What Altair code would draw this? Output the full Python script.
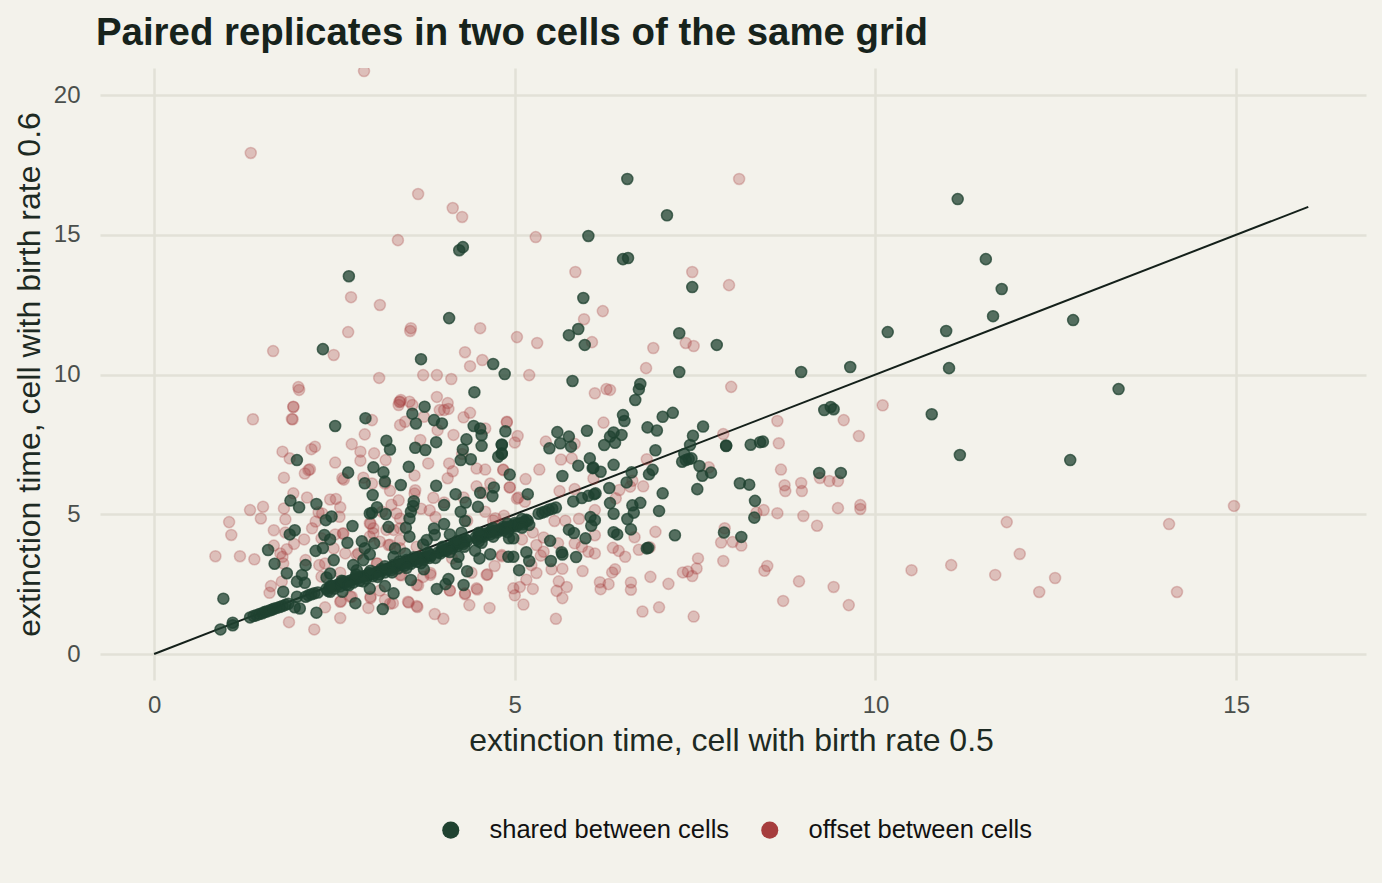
import altair as alt
import pandas as pd

X_TICKS = [0, 5, 10, 15]
Y_TICKS = [0, 5, 10, 15, 20]
SERIES = ["shared between cells", "offset between cells"]
COLOURS = ["#1f4230", "#a63d3d"]
REFERENCE = [(0, 0), (16, 16)]

SHARED_SCATTER = [
(6.56,17.0),(7.11,15.7),(11.14,16.28),(6.02,14.96),(6.50,14.13),(6.57,14.17),(4.23,14.45),(4.28,14.56),(2.70,13.52),
(11.53,14.13),(11.75,13.06),(11.63,12.09),(12.74,11.95),(7.46,13.13),(5.95,12.74),(4.09,12.02),(5.88,11.63),(5.75,11.41),
(5.97,11.06),(7.28,11.48),(7.80,11.06),(10.17,11.52),(10.98,11.56),(11.02,10.23),(9.65,10.27),(8.97,10.09),(13.37,9.48),
(2.34,10.91),(3.70,10.55),(4.70,10.38),(4.86,10.02),(4.44,9.37),(5.80,9.77),(7.28,10.09),(6.74,9.66),(6.72,9.47),(6.67,9.09),
(6.50,8.55),(6.52,8.34),(7.19,8.63),(7.05,8.49),(6.84,8.11),(6.97,8.0),(7.61,8.14),(7.47,7.81),(7.43,7.48),(7.35,7.16),
(7.45,7.0),(7.41,6.98),(7.37,6.94),(7.32,6.88),(7.56,6.73),(7.60,6.38),(7.72,6.49),(7.53,5.90),(7.93,7.44),(7.93,7.46),
(8.27,7.49),(8.40,7.58),(8.44,7.60),(8.12,6.11),(8.25,6.06),(8.33,5.48),(8.32,4.88),(7.90,4.35),(8.14,4.19),(7.22,4.25),
(7.00,5.12),(7.05,5.75),(6.83,3.78),(6.85,3.80),(6.61,4.46),(6.56,4.83),(6.65,5.06),(6.63,5.32),(6.74,5.41),(6.86,6.43),
(6.91,6.59),(6.95,7.29),(6.62,6.50),(6.55,6.14),(6.31,5.94),(6.32,5.40),(6.37,5.02),(6.37,4.36),(6.42,4.28),(6.12,5.75),
(6.10,5.72),(6.02,5.66),(5.93,5.58),(5.81,5.46),(6.37,6.77),(6.19,6.52),(6.08,6.65),(6.09,6.67),(6.04,7.0),(5.88,6.74),
(5.66,6.37),(5.48,7.36),(5.63,7.54),(5.59,7.94),(5.75,7.78),(5.78,7.42),(6.0,7.99),(6.24,7.48),(6.39,7.56),(6.32,7.78),
(6.37,7.93),(6.48,7.84),(5.18,5.72),(4.93,6.42),(4.87,7.97),(4.82,7.48),(4.82,7.16),(4.77,7.06),(6.05,4.90),(6.11,4.79),
(6.06,4.59),(5.98,4.14),(5.75,4.45),(5.82,4.33),(5.49,4.05),(5.65,3.64),(5.66,3.56),(5.50,3.33),(5.85,3.47),(5.20,3.33),
(5.16,3.64),(5.06,3.0),(4.98,4.14),(4.92,4.14),(4.98,3.48),(4.91,3.48),(5.20,4.62),
(12.70,6.94),(10.78,8.58),(11.17,7.12),(9.29,8.73),(9.38,8.84),(9.42,8.76),(9.22,6.48),(9.52,6.48),
(0.96,1.98),(0.92,0.88),(1.09,1.12),(1.09,1.03),(2.25,1.48),(2.79,1.82),(3.17,1.61),(2.02,1.63),(1.95,1.67),(2.99,2.34),
(3.20,2.43),(3.32,2.17),(2.61,2.23),(2.44,2.23),(1.79,2.23),(1.98,2.05),(3.56,2.65),(3.92,2.33),(4.04,2.5),(4.08,2.68),
(4.29,2.47),(3.74,3.03),(4.34,2.96),(4.19,3.23),(4.22,3.48),(4.51,3.42),(4.66,3.57),(4.45,3.70),(4.54,3.98),(1.84,2.89),
(1.67,3.23),(1.58,3.72),(2.10,3.18),(2.05,2.83),(1.98,2.59),(2.09,2.55),(2.39,2.74),(2.44,2.88),(2.49,3.36),(2.24,3.69),
(2.34,3.79),(1.88,4.28),(1.95,4.43),(1.89,5.49),(2.01,5.25),(1.98,6.94),(2.25,5.37),(2.38,4.79),(2.46,4.92),(2.75,4.58),
(2.36,4.26),(2.44,4.10),(2.68,3.98),(2.88,4.03),(2.92,3.78),(3.05,3.96),(2.99,3.57),(2.90,3.36),(2.76,3.18),(2.81,3.0),
(3.34,3.78),(3.32,3.48),(3.48,3.60),(3.54,4.20),(3.49,4.52),(3.54,4.85),(3.56,5.09),(3.59,5.30),(3.60,5.47),(3.25,4.55),
(3.21,5.01),(2.99,5.03),(3.02,5.05),(3.09,5.25),(3.03,5.69),(3.42,6.05),(2.92,6.11),(3.20,6.17),(3.18,6.50),(3.04,6.68),
(2.69,6.49),(3.53,6.70),(3.91,6.02),(4.18,5.72),(4.02,5.33),(4.32,5.42),(4.25,5.09),(4.31,4.76),(4.49,5.27),(4.52,5.77),
(4.71,5.96),(4.69,5.65),(4.02,4.65),(3.88,4.49),(3.89,4.26),(4.10,4.28),(4.26,4.34),(3.73,3.92),(3.78,4.08),(4.82,7.18),
(4.82,7.50),(4.54,7.45),(4.54,7.83),(4.52,8.07),(4.43,8.16),(4.33,7.68),(4.28,7.32),(4.25,6.94),(4.39,6.97),(3.91,7.58),
(3.76,7.30),(3.62,7.38),(3.99,8.25),(3.88,8.37),(3.63,8.25),(3.58,8.60),(3.75,8.85),(2.93,8.44),(2.51,8.16),(3.22,7.63),
(3.27,7.32),
]

SHARED_BAND = [
(1.33,1.31),(1.38,1.36),(1.42,1.39),(1.46,1.43),(1.5,1.46),(1.53,1.5),(1.56,1.52),(1.6,1.56),(1.63,1.58),(1.66,1.62),
(1.7,1.65),(1.74,1.68),(1.78,1.72),(1.82,1.76),(1.86,1.8),(2.1,2.05),(2.14,2.1),(2.18,2.14),(2.22,2.17),(2.27,2.2),
(2.39,2.33),(2.43,2.37),(2.47,2.42),(2.52,2.45),(2.56,2.5),(2.6,2.53),(2.65,2.56),(2.69,2.6),(2.74,2.65),(2.78,2.68),
(2.83,2.72),(2.87,2.76),(2.92,2.79),(2.96,2.82),(3.0,2.85),(3.05,2.88),(3.09,2.93),(3.13,2.96),(3.17,2.99),(3.22,3.03),
(3.26,3.06),(3.3,3.09),(3.35,3.13),(3.4,3.19),(3.44,3.22),(3.48,3.26),(3.52,3.29),(3.56,3.32),(3.6,3.36),(3.64,3.39),
(3.68,3.42),(3.72,3.45),(3.76,3.47),(3.8,3.5),(3.84,3.53),(3.94,3.64),(3.98,3.68),(4.02,3.72),(4.06,3.76),(4.1,3.82),
(4.14,3.87),(4.18,3.92),(4.22,3.96),(4.26,3.99),(4.3,4.02),(4.34,4.05),(4.46,4.18),(4.5,4.22),(4.54,4.25),(4.58,4.29),
(4.62,4.33),(4.66,4.36),(4.7,4.39),(4.74,4.42),(4.78,4.45),(4.82,4.48),(4.86,4.51),(4.9,4.54),(4.94,4.57),(4.98,4.6),
(5.02,4.64),(5.06,4.67),(5.1,4.7),(5.14,4.73),(5.18,4.77),(5.33,5.02),(5.38,5.06),(5.42,5.1),(5.47,5.16),(5.52,5.2),(5.57,5.24),
(2.41,2.26),(2.5,2.34),(2.58,2.42),(2.67,2.48),(2.76,2.56),(2.85,2.62),(2.94,2.7),(3.03,2.78),(3.12,2.85),(3.2,2.92),
(3.29,3.0),(3.38,3.06),(3.47,3.16),(3.56,3.23),(3.65,3.3),(3.74,3.37),(3.82,3.44),(3.97,3.6),(4.05,3.69),(4.13,3.78),
(4.21,3.87),(4.29,3.94),(4.48,4.11),(4.57,4.2),(4.66,4.28),(4.75,4.35),(4.84,4.42),(4.93,4.49),(5.02,4.57),(5.11,4.64),
(2.45,2.44),(2.62,2.6),(2.8,2.76),(2.98,2.9),(3.15,3.04),(3.32,3.18),(3.5,3.36),(3.66,3.47),(3.82,3.58),(4.0,3.76),
(4.16,3.95),(4.32,4.1),(4.52,4.3),(4.68,4.44),(4.84,4.55),(5.0,4.69),(5.16,4.8),
(2.6,2.62),(2.8,2.84),(3.0,2.98),(3.2,3.14),(3.4,3.31),(3.6,3.46),(3.8,3.62),(4.0,3.84),(4.2,4.04),(4.5,4.34),(4.7,4.51),(4.9,4.66),(5.1,4.83),
(2.7,2.46),(2.9,2.6),(3.1,2.76),(3.3,2.92),(3.5,3.08),(3.7,3.25),(3.9,3.44),(4.1,3.65),(4.3,3.84),(4.5,4.03),(4.7,4.2),(4.9,4.36),(5.1,4.52),
]

OFFSET = [
(1.93,8.85),(1.92,8.40),(1.37,8.40),(1.78,7.24),(1.88,7.0),(2.18,7.33),(2.23,7.42),(2.14,6.58),(2.09,6.46),(2.16,6.61),
(1.80,6.31),(2.51,6.85),(2.74,7.51),(2.86,7.24),(2.86,6.92),(3.05,7.18),(2.92,7.86),(3.02,8.37),(3.21,6.94),(3.41,8.19),
(3.48,8.31),(3.39,8.91),(3.54,9.03),(3.41,9.03),(3.74,8.49),(3.96,8.73),(4.08,8.77),(4.15,7.84),(3.93,8.01),(3.69,7.66),
(3.80,6.82),(4.09,6.82),(4.14,6.54),(4.07,6.29),(4.29,8.47),(4.38,8.63),(4.59,8.07),(4.89,8.31),(4.27,7.16),(4.47,6.64),
(4.59,6.60),(4.84,6.58),(3.61,6.39),(2.90,6.31),(3.02,6.10),(3.2,6.1),(3.27,5.84),(2.63,6.24),(2.61,6.29),(1.93,5.75),
(2.12,5.60),(1.33,5.15),(1.51,5.27),(1.48,4.85),(1.80,5.21),(1.82,4.82),(1.04,4.72),(1.07,4.26),(0.85,3.50),(1.19,3.5),
(1.39,3.39),(1.66,4.43),(1.82,4.35),(2.19,4.50),(2.28,5.07),(2.33,5.03),(2.44,5.53),(2.52,5.55),(2.58,5.25),(2.57,4.91),
(2.24,4.74),(2.51,4.28),(2.62,4.32),(2.08,4.10),(1.94,3.94),(1.84,3.75),(1.66,3.88),(1.75,3.6),(1.78,3.48),(1.79,3.24),
(2.10,3.36),(2.29,3.18),(2.49,3.78),(2.65,3.6),(2.83,3.6),(2.58,2.91),(1.62,2.43),(1.60,2.19),(1.77,2.59),(2.59,1.89),
(2.72,2.05),(2.37,1.67),(2.58,1.29),(2.22,0.88),(1.87,1.14),(2.97,1.65),(3.0,2.05),(3.2,1.94),(3.31,1.82),(3.13,2.27),
(3.53,1.84),(3.65,1.68),(3.89,1.43),(4.01,1.26),(4.37,1.75),(4.65,1.65),(4.31,2.14),(4.10,2.27),(4.48,2.31),(3.66,2.46),
(3.83,2.9),(3.43,2.82),(3.09,3.24),(4.62,2.85),(4.40,2.91),(4.82,3.50),(4.98,2.35),(5.0,2.1),(4.73,4.86),(4.59,5.09),
(4.93,5.96),(5.03,5.56),(4.66,6.1),(4.47,6.0),(4.56,5.77),(4.29,5.6),(3.87,5.59),(3.82,5.14),(4.02,5.42),(3.62,5.86),
(3.61,5.74),(3.39,5.5),(3.29,5.34),(3.16,5.09),(3.36,5.03),(3.41,4.85),(2.99,4.68),(3.04,4.5),(2.99,4.2),(3.13,4.02),
(3.27,3.91),(3.41,4.08),
(6.11,9.33),(6.27,9.48),(8.0,9.56),(8.64,8.34),(8.66,7.54),(8.69,6.6),(8.74,6.04),(8.98,5.83),(8.45,5.15),(8.35,5.06),
(8.64,5.04),(9.0,4.94),(9.19,4.59),(7.89,7.87),(7.69,6.68),(6.83,6.97),(6.23,8.28),(4.89,8.29),(5.04,7.80),(5.0,7.57),
(5.43,7.60),(5.83,7.52),(5.64,6.96),(5.79,7.0),(5.34,6.6),(5.15,6.26),(4.93,5.97),(4.84,6.6),(6.09,6.28),(5.62,5.83),
(5.83,5.9),(5.05,5.60),(5.14,5.45),(6.45,5.87),(6.40,5.57),(6.6,5.99),(6.63,6.2),(6.78,6.0),(6.11,5.15),(5.89,4.84),
(5.70,4.77),(5.55,4.76),(6.11,4.25),(5.40,4.17),(5.60,3.96),(5.83,3.96),(5.93,3.84),(6.02,3.66),(6.11,3.6),(5.40,3.66),
(5.36,3.52),(5.23,3.18),(5.30,2.9),(5.16,2.66),(5.07,2.4),(5.12,1.77),(5.25,2.33),(5.51,3.03),
(5.66,3.05),(5.94,2.97),(5.61,2.6),(5.72,2.4),(5.58,2.26),(5.66,2.0),(5.57,1.26),(6.36,3.8),(6.44,3.69),(6.53,3.48),
(6.72,3.73),(6.66,4.18),(6.95,4.37),(6.87,3.82),(6.39,3.03),(6.35,2.92),(6.18,2.57),(6.19,2.32),(6.30,2.5),(6.61,2.56),
(6.61,2.3),(6.88,2.76),(7.13,2.51),(6.77,1.52),(7.0,1.67),(7.48,1.34),(7.33,2.92),(7.40,2.95),(7.46,2.79),(7.52,3.06),
(7.54,3.42),(7.86,3.99),(8.02,4.01),(8.14,3.88),(7.89,3.33),(7.91,4.5),(8.46,2.98),(8.50,3.15),(8.94,2.6),(8.72,1.9),
(2.91,20.86),(1.34,17.93),(3.66,16.46),(4.14,15.96),(4.27,15.64),(3.38,14.81),(5.29,14.92),(8.11,17.0),(5.84,13.67),
(7.46,13.67),(7.97,13.2),(2.73,12.77),(3.13,12.49),(6.22,12.27),(2.69,11.52),(3.55,11.56),(3.56,11.66),(4.52,11.66),
(5.03,11.34),(5.31,11.13),(6.07,11.16),(5.96,11.98),(7.37,11.13),(7.48,11.02),(1.65,10.84),(2.49,10.7),(4.31,10.8),
(4.55,10.52),(6.92,10.95),(6.82,10.23),(4.38,10.3),(3.73,9.98),(3.92,9.98),(4.12,9.84),(5.20,9.98),(3.12,9.88),(6.32,9.45),
(2.0,9.55),(2.01,9.45),(3.92,9.2),(3.4,9.02),(3.42,9.09),(3.58,8.91),(4.07,8.98),(4.02,8.73),(1.93,8.84),(1.91,8.41),
(10.1,8.9),(9.56,8.37),(9.77,7.8),(8.97,6.12),(8.75,5.83),(9.23,6.3),(9.36,6.19),(9.48,6.19),(9.48,5.22),(9.79,5.19),
(9.79,5.33),(9.42,2.4),(9.63,1.75),(10.5,3.0),(11.05,3.18),(11.66,2.83),(12.0,3.58),(11.82,4.72),(14.07,4.65),(14.97,5.3),
(12.27,2.22),(12.49,2.72),(14.18,2.22),
(3.0,4.67),(3.22,4.44),(3.41,4.5),(2.62,4.3),(2.32,4.14),(2.81,3.54),(3.04,4.32),(3.09,3.24),(2.37,3.24),(2.32,2.77),
(3.41,2.83),(3.64,2.47),(3.83,2.83),(3.73,2.76),(4.1,2.28),(4.31,2.17),(4.47,2.35),(4.61,2.83),(3.52,1.87),(3.64,1.72),
(2.58,1.87),(2.74,2.05),(3.0,2.0),(3.27,1.8),(4.82,3.54),(4.13,3.42),(3.32,4.44),(3.25,3.9),(3.41,3.78),(3.64,3.84),
(4.13,3.78),(4.34,4.77),(4.7,4.78),(4.85,4.95),(5.25,4.35),(5.1,4.1),(5.3,3.9),(4.72,3.15),(3.9,4.9),(3.7,5.2),
]

rows = [{"x": x, "y": y, "kind": SERIES[1]} for x, y in OFFSET]
red = pd.DataFrame(rows)
rows = [{"x": x, "y": y, "kind": SERIES[0]} for x, y in SHARED_SCATTER + SHARED_BAND]
green = pd.DataFrame(rows)
ref = pd.DataFrame(REFERENCE, columns=["x", "y"])

FONT = "Liberation Sans"
BG = "#f3f2eb"
x_scale = alt.Scale(domain=[-0.75, 16.8], nice=False, zero=False)
y_scale = alt.Scale(domain=[-0.93, 20.97], nice=False, zero=False)
col_scale = alt.Scale(domain=SERIES, range=COLOURS)

x_axis = alt.X("x:Q", scale=x_scale, axis=alt.Axis(
    values=X_TICKS, title="extinction time, cell with birth rate 0.5", format="d",
    grid=True, gridColor="#e2e1d7", gridWidth=2.5, domain=False, ticks=False,
    labelFont=FONT, labelFontSize=24, labelColor="#4a4f4b", labelPadding=13,
    titleFont=FONT, titleFontSize=32, titleFontWeight="normal", titleColor="#1d2a23", titlePadding=8,
    titleX=631))
y_axis = alt.Y("y:Q", scale=y_scale, axis=alt.Axis(
    values=Y_TICKS, title="extinction time, cell with birth rate 0.6", format="d",
    grid=True, gridColor="#e2e1d7", gridWidth=2.5, domain=False, ticks=False,
    labelFont=FONT, labelFontSize=24, labelColor="#4a4f4b", labelPadding=20,
    titleFont=FONT, titleFontSize=32, titleFontWeight="normal", titleColor="#1d2a23", titlePadding=7))

line = alt.Chart(ref).mark_line(color="#14201a", strokeWidth=2).encode(x=x_axis, y=y_axis)

legend = alt.Legend(
    title=None, orient="none", legendX=338, legendY=749, direction="horizontal",
    symbolSize=290, symbolType="circle", symbolOpacity=1, symbolStrokeWidth=0,
    labelFont=FONT, labelFontSize=25.5, labelColor="#111111", labelOffset=26, columnPadding=27, labelLimit=400)


def scatter(df, alpha, show_legend):
    return alt.Chart(df).mark_circle(
        size=122, strokeWidth=1.5, fillOpacity=alpha, strokeOpacity=alpha, clip=True
    ).encode(
        x="x:Q", y="y:Q",
        fill=alt.Fill("kind:N", scale=col_scale, legend=legend if show_legend else None),
        stroke=alt.Stroke("kind:N", scale=col_scale, legend=None),
    )


chart = alt.layer(line, scatter(red, 0.28, True), scatter(green, 0.75, True)).properties(
    width=1266, height=612,
    background=BG,
    padding={"left": 92, "top": 60, "right": 8, "bottom": 190},
    autosize=alt.AutoSizeParams(type="none"),
    title=alt.TitleParams(
        "Paired replicates in two cells of the same grid", anchor="start", frame="group",
        font=FONT, fontSize=38.4, fontWeight="bold", color="#17231c", dx=-4, offset=15),
).configure_view(stroke=None).resolve_scale(fill="shared", stroke="shared")

chart.save("out.html", embed_options={"renderer": "svg", "actions": False,
                                      "defaultStyle": "html,body{background:%s}" % BG})
